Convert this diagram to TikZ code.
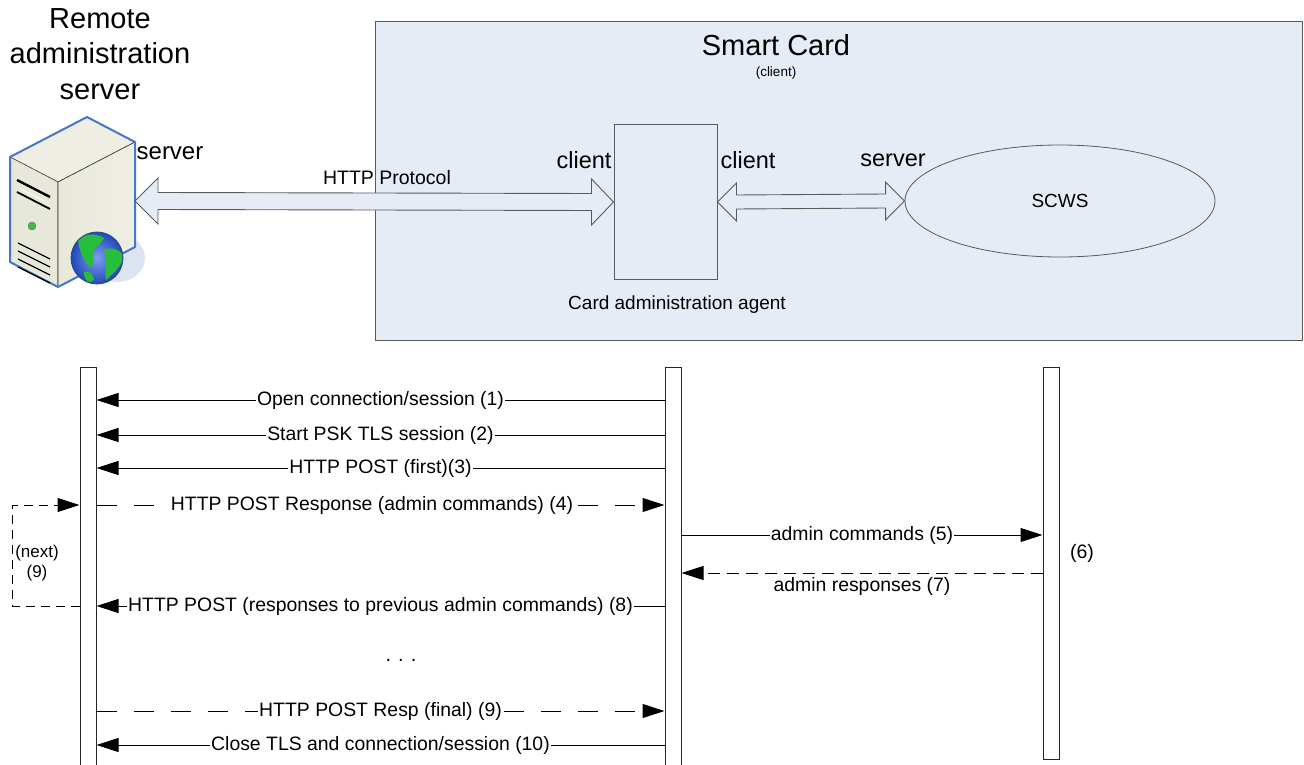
\documentclass[tikz,border=0pt]{standalone}
\usepackage{fontspec}
\setmainfont{Liberation Sans}
\usetikzlibrary{arrows.meta,calc,shapes.geometric}
\definecolor{cardfill}{RGB}{230,236,246}
\definecolor{edgegray}{RGB}{90,90,90}
\definecolor{srvblue}{RGB}{70,120,196}
\definecolor{srvface}{RGB}{232,232,218}
\definecolor{srvtop}{RGB}{238,238,228}
\definecolor{srvshadow}{RGB}{220,228,240}
\definecolor{globeblue}{RGB}{40,90,230}
\definecolor{globegreen}{RGB}{40,190,60}
\newcommand\fsz[1]{\fontsize{#1}{\dimexpr #1pt*6/5\relax}\selectfont}
\begin{document}
\begin{tikzpicture}[x=1pt,y=-1pt,
  txt/.style={inner sep=0pt, text=black},
  cardbox/.style={draw=edgegray, fill=cardfill, line width=1pt, inner sep=0pt},
  agentbox/.style={draw=edgegray, line width=1pt, inner sep=0pt, minimum width=103pt, minimum height=154pt},
  scws/.style={ellipse, draw=edgegray, line width=0.8pt, inner sep=0pt, minimum width=310pt, minimum height=112pt},
  dblarrow/.style={draw=edgegray, fill=cardfill, line width=0.9pt, line join=miter},
  lifebar/.style={draw=black!85, fill=white, line width=1pt, inner sep=0pt, minimum width=16pt, anchor=north},
  msg/.style={line width=1pt, -{Triangle[length=22pt,width=14pt]}},
  longdash/.style={dash pattern=on 20pt off 17pt},
  shortdash/.style={dash pattern=on 12pt off 7pt},
  loopdash/.style={dash pattern=on 9pt off 6pt},
  lbl/.style={font=\fsz{19.4}, fill=white, inner sep=1pt, text=black},
]
\useasboundingbox (0,0) rectangle (1304,765);

% ---------------- top part ----------------
\node[cardbox, anchor=north west, minimum width=927pt, minimum height=319pt] (card) at (375,21) {};
\node[txt, font=\fsz{29}] (cardtitle) at (776,45) {Smart Card};
\node[txt, font=\fsz{13.5}] (cardsub) at (776,73) {(client)};
\node[agentbox] (A) at (665.5,202) {};
\node[txt, font=\fsz{19}] (Alabel) at (677,305) {Card administration agent};
\node[scws] (S) at (1060,201) {};
\node[txt, font=\fsz{19}] (Slabel) at (S.center) {SCWS};

% server icon
\fill[srvshadow] (118,258) ellipse (27 and 24);
\filldraw[fill=srvtop, draw=black!70, line width=0.6pt] (10,157) -- (87,117) -- (135,142) -- (58,182) -- cycle;
\filldraw[fill=srvface, draw=black!70, line width=0.6pt] (10,157) -- (58,182) -- (58,287) -- (10,262) -- cycle;
\shade[left color=srvface, right color=srvtop] (58,182) -- (135,142) -- (135,247) -- (58,287) -- cycle;
\draw[black!80, line width=0.6pt] (58,182) -- (135,142) (58,182) -- (58,287);
\draw[srvblue, line width=2pt, line join=round] (10,157) -- (87,117) -- (135,142) -- (135,247) -- (58,287) -- (10,262) -- cycle;
\draw[black, line width=2.4pt] (17,180) -- (50,197);
\draw[black, line width=1.8pt] (17,192) -- (50,209);
\draw[white, line width=0.8pt] (19,188) -- (48,203);
\filldraw[fill=green!45!gray, draw=black!60] (32,226) circle (4);
\foreach \v in {243,251,259,267} \draw[black, line width=1.3pt] (18,\v) -- (50,\v+16);
\shade[inner color=globeblue!60!white, outer color=globeblue!80!black] (97,258) circle (26);
\begin{scope}
  \clip (97,258) circle (25.5);
  \fill[globegreen] (78,240) .. controls (86,232) and (98,234) .. (104,238) .. controls (102,244) and (96,246) .. (94,250) .. controls (92,256) and (96,262) .. (90,268) .. controls (86,262) and (80,256) .. (78,240) -- cycle;
  \fill[globegreen] (104,250) .. controls (112,246) and (122,250) .. (124,258) .. controls (120,268) and (112,274) .. (106,280) .. controls (104,270) and (108,262) .. (104,250) -- cycle;
  \fill[globegreen] (84,272) .. controls (88,270) and (94,274) .. (94,280) .. controls (90,284) and (84,282) .. (84,272) -- cycle;
\end{scope}
\draw[srvblue!60!black, line width=0.8pt] (97,258) circle (26);
\coordinate (srv) at (135,201);

\node[txt, font=\fsz{29}, align=center] (title) at (100,54) {Remote\\[1pt]administration\\[1pt]server};
\node[txt, font=\fsz{24}] (srvlbl) at (170,153) {server};
\node[txt, font=\fsz{19.5}] (http) at (387,178) {HTTP Protocol};
\node[txt, font=\fsz{23.5}] (cl1) at (584,160) {client};
\node[txt, font=\fsz{23.5}] (cl2) at (748,160) {client};
\node[txt, font=\fsz{23.5}] (sv2) at (893,160) {server};

% HTTP double arrow
\draw[dblarrow] (srv) -- ($(srv)+(23,-23)$) -- ($(srv)+(23,-8.5)$) -- ($(A.west)+(-22,-8.5)$) -- ($(A.west)+(-22,-23)$) -- (A.west)
  -- ($(A.west)+(-22,23)$) -- ($(A.west)+(-22,8.5)$) -- ($(srv)+(23,8.5)$) -- ($(srv)+(23,23)$) -- cycle;
% agent <-> SCWS double arrow
\draw[dblarrow] (A.east) -- ($(A.east)+(19,-19)$) -- ($(A.east)+(19,-7)$) -- ($(S.west)+(-19,-7)$) -- ($(S.west)+(-19,-19)$) -- (S.west)
  -- ($(S.west)+(-19,19)$) -- ($(S.west)+(-19,7)$) -- ($(A.east)+(19,7)$) -- ($(A.east)+(19,19)$) -- cycle;

% ---------------- sequence part ----------------
\node[lifebar, minimum height=405pt] (L) at (88,367) {};
\node[lifebar, minimum height=405pt] (M) at (673,367) {};
\node[lifebar, minimum height=392pt] (R) at (1051,367) {};

\coordinate (y1) at (0,400);
\coordinate (y2) at (0,435);
\coordinate (y3) at (0,468);
\coordinate (y4) at (0,505);
\coordinate (y5) at (0,535);
\coordinate (y7) at (0,573);
\coordinate (y8) at (0,606);
\coordinate (y9) at (0,711);
\coordinate (y10) at (0,745);
\coordinate (lp) at (12,0);

\draw[msg] (M.west |- y1) -- node[lbl] {Open connection/session (1)} (L.east |- y1);
\draw[msg] (M.west |- y2) -- node[lbl] {Start PSK TLS session (2)} (L.east |- y2);
\draw[msg] (M.west |- y3) -- node[lbl] {HTTP POST (first)(3)} (L.east |- y3);
\draw[msg, longdash] (L.east |- y4) -- node[lbl, pos=0.485] {HTTP POST Response (admin commands) (4)} (M.west |- y4);
\draw[msg] (M.east |- y5) -- node[lbl] {admin commands (5)} (R.west |- y5);
\draw[msg, shortdash] (R.west |- y7) -- node[lbl, below=3pt] {admin responses (7)} (M.east |- y7);
\draw[msg] (M.west |- y8) -- node[lbl] {HTTP POST (responses to previous admin commands) (8)} (L.east |- y8);
\draw[msg, longdash] (L.east |- y9) -- node[lbl] {HTTP POST Resp (final) (9)} (M.west |- y9);
\draw[msg] (M.west |- y10) -- node[lbl] {Close TLS and connection/session (10)} (L.east |- y10);

\draw[msg, loopdash] (L.west |- y8) -| (lp |- y4) -- (L.west |- y4);
\node[txt, font=\fsz{17}, align=center] (next) at (37,563) {(next)\\(9)};
\node[txt, font=\fsz{19.5}] (six) at (1082,553) {(6)};
\node[txt, font=\fsz{20}] (dots) at (401,660) {.\hspace{7pt}.\hspace{7pt}.};
\end{tikzpicture}
\end{document}
